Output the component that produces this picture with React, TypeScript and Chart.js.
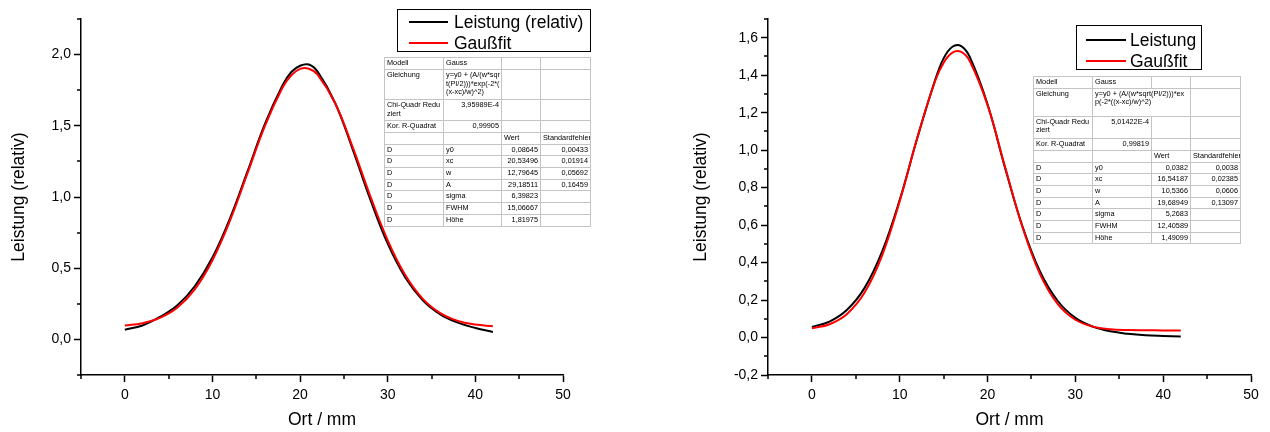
import React, { useEffect, useRef } from 'react';
import { Chart, registerables } from 'chart.js';

Chart.register(...registerables);

const FONT = '"Liberation Sans", Arial, Helvetica, sans-serif';

// ---------- Left chart data ----------
const leftX = [0, 2, 4, 6, 8, 10, 12, 14, 16, 18, 19, 20, 21, 22, 24, 26, 28, 30, 32, 34, 36, 38, 40, 42];
const leftMeasured = [0.068, 0.098, 0.158, 0.240, 0.375, 0.575, 0.850, 1.180, 1.515, 1.785, 1.878, 1.922, 1.930, 1.880, 1.660, 1.335, 0.985, 0.672, 0.435, 0.275, 0.176, 0.118, 0.080, 0.052];
const leftFit = [0.097, 0.114, 0.151, 0.224, 0.353, 0.556, 0.834, 1.167, 1.502, 1.769, 1.855, 1.900, 1.901, 1.859, 1.658, 1.350, 1.008, 0.696, 0.452, 0.285, 0.185, 0.130, 0.104, 0.093];

// ---------- Right chart data ----------
const rightX = [0, 2, 4, 6, 8, 10, 12, 14, 15, 16, 17, 18, 20, 22, 24, 26, 28, 30, 32, 34, 36, 38, 40, 42];
const rightMeasured = [0.057, 0.085, 0.148, 0.265, 0.460, 0.735, 1.065, 1.370, 1.490, 1.552, 1.555, 1.495, 1.245, 0.905, 0.590, 0.350, 0.195, 0.105, 0.058, 0.033, 0.020, 0.012, 0.008, 0.005];
const rightFit = [0.049, 0.071, 0.126, 0.240, 0.439, 0.728, 1.066, 1.365, 1.467, 1.521, 1.524, 1.473, 1.240, 0.910, 0.586, 0.336, 0.178, 0.095, 0.058, 0.044, 0.040, 0.039, 0.038, 0.038];

// ---------- Axis ranges / ticks ----------
const xRange = [-5, 50];
const xMinorStep = 5;
const xMajorStep = 10;
const leftYRange = [-0.25, 2.25];
const leftYMinorStep = 0.25;
const leftYMajorStep = 0.5;
const rightYRange = [-0.2, 1.7];
const rightYMinorStep = 0.1;
const rightYMajorStep = 0.2;

const xTitle = 'Ort / mm';
const yTitle = 'Leistung (relativ)';

// ---------- Legends ----------
const leftLegendLabels = ['Leistung (relativ)', 'Gaußfit'];
const rightLegendLabels = ['Leistung', 'Gaußfit'];
const seriesColors = ['#000000', '#ff0000'];

// ---------- Fit tables ----------
const paramNames = ['y0', 'xc', 'w', 'A', 'sigma', 'FWHM', 'Höhe'];
const leftEquation = ['y=y0 + (A/(w*sqr', 't(PI/2)))*exp(-2*(', '(x-xc)/w)^2)'];
const leftChi = '3,95989E-4';
const leftR2 = '0,99905';
const leftValues = ['0,08645', '20,53496', '12,79645', '29,18511', '6,39823', '15,06667', '1,81975'];
const leftErrors = ['0,00433', '0,01914', '0,05692', '0,16459', '', '', ''];

const rightEquation = ['y=y0 + (A/(w*sqrt(PI/2)))*ex', 'p(-2*((x-xc)/w)^2)'];
const rightChi = '5,01422E-4';
const rightR2 = '0,99819';
const rightValues = ['0,0382', '16,54187', '10,5366', '19,68949', '5,2683', '12,40589', '1,49099'];
const rightErrors = ['0,0038', '0,02385', '0,0606', '0,13097', '', '', ''];

const isMultiple = (v: number, step: number) => Math.abs(v / step - Math.round(v / step)) < 1e-6;
const fmtComma = (v: number) => {
  const s = (Math.abs(v) < 1e-9 ? 0 : v).toFixed(1);
  return s.replace('.', ',');
};

function makeConfig(p: {
  xs: number[]; measured: number[]; fit: number[];
  yRange: number[]; yMinor: number; yMajor: number;
  yAxisWidth: number; padRight: number;
}) {
  const isMajorX = (v: number) => isMultiple(v, xMajorStep);
  const isMajorY = (v: number) => isMultiple(v, p.yMajor);
  const minorTicks = {
    id: 'minorTicks',
    afterDraw(chart: any) {
      const { ctx } = chart;
      const xs = chart.scales.x;
      const ys = chart.scales.y;
      ctx.save();
      ctx.strokeStyle = '#000';
      ctx.lineWidth = 1.5;
      ctx.beginPath();
      xs.ticks.forEach((t: any) => {
        if (!isMajorX(t.value)) {
          const px = Math.round(xs.getPixelForValue(t.value));
          ctx.moveTo(px, xs.top);
          ctx.lineTo(px, xs.top + 4);
        }
      });
      ys.ticks.forEach((t: any) => {
        if (!isMajorY(t.value)) {
          const py = Math.round(ys.getPixelForValue(t.value));
          ctx.moveTo(ys.right, py);
          ctx.lineTo(ys.right - 4, py);
        }
      });
      ctx.stroke();
      ctx.restore();
    },
  };
  return {
    type: 'line' as const,
    data: {
      datasets: [
        {
          label: 'measured',
          data: p.xs.map((x, i) => ({ x, y: p.measured[i] })),
          borderColor: seriesColors[0],
          borderWidth: 2,
          pointRadius: 0,
          tension: 0.4,
          order: 2,
        },
        {
          label: 'fit',
          data: p.xs.map((x, i) => ({ x, y: p.fit[i] })),
          borderColor: seriesColors[1],
          borderWidth: 2,
          pointRadius: 0,
          tension: 0.4,
          order: 1,
        },
      ],
    },
    options: {
      animation: false as const,
      responsive: false,
      devicePixelRatio: 1,
      layout: { padding: { top: 19, right: p.padRight, bottom: 0, left: 0 } },
      plugins: { legend: { display: false }, tooltip: { enabled: false } },
      scales: {
        x: {
          type: 'linear' as const,
          min: xRange[0],
          max: xRange[1],
          afterFit: (s: any) => { s.height = 57; },
          ticks: {
            stepSize: xMinorStep,
            autoSkip: false,
            maxRotation: 0,
            padding: 5,
            color: '#000',
            font: { size: 14, family: FONT },
            callback: (v: any) => (isMajorX(Number(v)) ? String(Math.round(Number(v))) : ''),
          },
          grid: {
            drawOnChartArea: false,
            drawTicks: true,
            tickLength: 7,
            tickWidth: 1.5,
            tickColor: (c: any) => (c.tick && isMajorX(c.tick.value) ? '#000' : 'rgba(0,0,0,0)'),
          },
          border: { color: '#000', width: 1.5 },
          title: { display: true, text: xTitle, color: '#000', font: { size: 17.5, family: FONT }, padding: { top: 0, bottom: 1.5 } },
        },
        y: {
          type: 'linear' as const,
          min: p.yRange[0],
          max: p.yRange[1],
          afterFit: (s: any) => { s.width = p.yAxisWidth; },
          ticks: {
            stepSize: p.yMinor,
            autoSkip: false,
            padding: 3,
            color: '#000',
            font: { size: 14, family: FONT },
            callback: (v: any) => (isMajorY(Number(v)) ? fmtComma(Number(v)) : ''),
          },
          grid: {
            drawOnChartArea: false,
            drawTicks: true,
            tickLength: 7,
            tickWidth: 1.5,
            tickColor: (c: any) => (c.tick && isMajorY(c.tick.value) ? '#000' : 'rgba(0,0,0,0)'),
          },
          border: { color: '#000', width: 1.5 },
          title: { display: true, text: yTitle, color: '#000', font: { size: 17.5, family: FONT }, padding: { top: 8.5, bottom: 0 } },
        },
      },
    },
    plugins: [minorTicks],
  };
}

function ChartCanvas({ left, width, config }: { left: number; width: number; config: any }) {
  const ref = useRef<HTMLCanvasElement>(null);
  useEffect(() => {
    const chart = new Chart(ref.current as HTMLCanvasElement, config);
    return () => chart.destroy();
  }, []);
  return (
    <canvas
      ref={ref}
      width={width}
      height={432}
      style={{ position: 'absolute', left, top: 0, width, height: 432, zIndex: 1 }}
    />
  );
}

function LegendBox(props: {
  left: number; top: number; width: number; height: number;
  labels: string[]; rowCenters: number[]; lineX: number; lineW: number; textX: number;
}) {
  return (
    <div
      style={{
        position: 'absolute', left: props.left, top: props.top, width: props.width, height: props.height,
        border: '1.5px solid #000', boxSizing: 'border-box', background: '#fff', zIndex: 2,
        fontFamily: FONT, fontSize: 17.5, color: '#000',
      }}
    >
      {props.labels.map((lab, i) => (
        <React.Fragment key={i}>
          <div
            style={{
              position: 'absolute', left: props.lineX, top: props.rowCenters[i] - 1,
              width: props.lineW, height: 2, background: seriesColors[i],
            }}
          />
          <div
            style={{
              position: 'absolute', left: props.textX, top: props.rowCenters[i] - 11,
              height: 22, lineHeight: '22px', whiteSpace: 'nowrap',
            }}
          >
            {lab}
          </div>
        </React.Fragment>
      ))}
    </div>
  );
}

function FitTable(props: {
  left: number; top: number; colWidths: number[]; rowHeights: number[];
  equation: string[]; eqSpan: boolean; chi: string; r2: string; values: string[]; errors: string[];
}) {
  const total = props.colWidths.reduce((a, b) => a + b, 0);
  const td = (extra: any = {}) => ({
    border: '1px solid #c4c4c4', padding: '1px 2px 0 2px', verticalAlign: 'top' as const,
    whiteSpace: 'nowrap' as const, overflow: 'hidden', ...extra,
  });
  const right = { textAlign: 'right' as const };
  const rh = props.rowHeights;
  return (
    <table
      style={{
        position: 'absolute', left: props.left, top: props.top, width: total,
        borderCollapse: 'collapse', tableLayout: 'fixed', border: '1.5px solid #000',
        fontFamily: FONT, fontSize: 7.3, lineHeight: '8.5px', color: '#000', background: '#fff', zIndex: 2,
      }}
    >
      <colgroup>
        {props.colWidths.map((w, i) => <col key={i} style={{ width: w }} />)}
      </colgroup>
      <tbody>
        <tr style={{ height: rh[0] }}>
          <td style={td()}>Modell</td><td style={td()}>Gauss</td><td style={td()} /><td style={td()} />
        </tr>
        <tr style={{ height: rh[1] }}>
          <td style={td()}>Gleichung</td>
          {props.eqSpan ? (
            <td style={td({ overflow: 'visible' })} colSpan={2}>
              {props.equation.map((l, i) => <div key={i}>{l}</div>)}
            </td>
          ) : (
            <>
              <td style={td()}>{props.equation.map((l, i) => <div key={i}>{l}</div>)}</td>
              <td style={td()} />
            </>
          )}
          <td style={td()} />
        </tr>
        <tr style={{ height: rh[2] }}>
          <td style={td()}><div>Chi-Quadr Redu</div><div>ziert</div></td>
          <td style={td(right)}>{props.chi}</td><td style={td()} /><td style={td()} />
        </tr>
        <tr style={{ height: rh[3] }}>
          <td style={td()}>Kor. R-Quadrat</td>
          <td style={td(right)}>{props.r2}</td><td style={td()} /><td style={td()} />
        </tr>
        <tr style={{ height: rh[4] }}>
          <td style={td()} /><td style={td()} /><td style={td()}>Wert</td><td style={td()}>Standardfehler</td>
        </tr>
        {paramNames.map((n, i) => (
          <tr key={n} style={{ height: rh[5 + i] }}>
            <td style={td()}>D</td>
            <td style={td()}>{n}</td>
            <td style={td(right)}>{props.values[i]}</td>
            <td style={td(right)}>{props.errors[i]}</td>
          </tr>
        ))}
      </tbody>
    </table>
  );
}

const leftConfig = makeConfig({
  xs: leftX, measured: leftMeasured, fit: leftFit,
  yRange: leftYRange, yMinor: leftYMinorStep, yMajor: leftYMajorStep,
  yAxisWidth: 81, padRight: 37,
});
const rightConfig = makeConfig({
  xs: rightX, measured: rightMeasured, fit: rightFit,
  yRange: rightYRange, yMinor: rightYMinorStep, yMajor: rightYMajorStep,
  yAxisWidth: 86, padRight: 19,
});

export default function App() {
  return (
    <div
      style={{
        position: 'absolute', left: 0, top: 0, width: 1270, height: 432,
        overflow: 'hidden', background: '#fff', fontFamily: FONT,
      }}
    >
      <ChartCanvas left={0} width={600} config={leftConfig} />
      <ChartCanvas left={682} width={588} config={rightConfig} />
      <LegendBox
        left={397} top={9} width={194} height={43}
        labels={leftLegendLabels} rowCenters={[12, 32.5]} lineX={11} lineW={39} textX={56}
      />
      <LegendBox
        left={1076} top={25} width={126} height={45}
        labels={rightLegendLabels} rowCenters={[14, 35]} lineX={9} lineW={40} textX={53}
      />
      <FitTable
        left={384} top={57} colWidths={[59, 58, 39, 50]}
        rowHeights={[12, 30, 21, 12, 11.7, 11.7, 11.7, 11.7, 11.7, 11.7, 11.7, 11.7]}
        equation={leftEquation} eqSpan={false} chi={leftChi} r2={leftR2}
        values={leftValues} errors={leftErrors}
      />
      <FitTable
        left={1033} top={76} colWidths={[59, 59, 39, 50]}
        rowHeights={[11.7, 28.3, 22.3, 11.7, 11.7, 11.7, 11.7, 11.7, 11.7, 11.7, 11.7, 11.7]}
        equation={rightEquation} eqSpan={true} chi={rightChi} r2={rightR2}
        values={rightValues} errors={rightErrors}
      />
    </div>
  );
}
